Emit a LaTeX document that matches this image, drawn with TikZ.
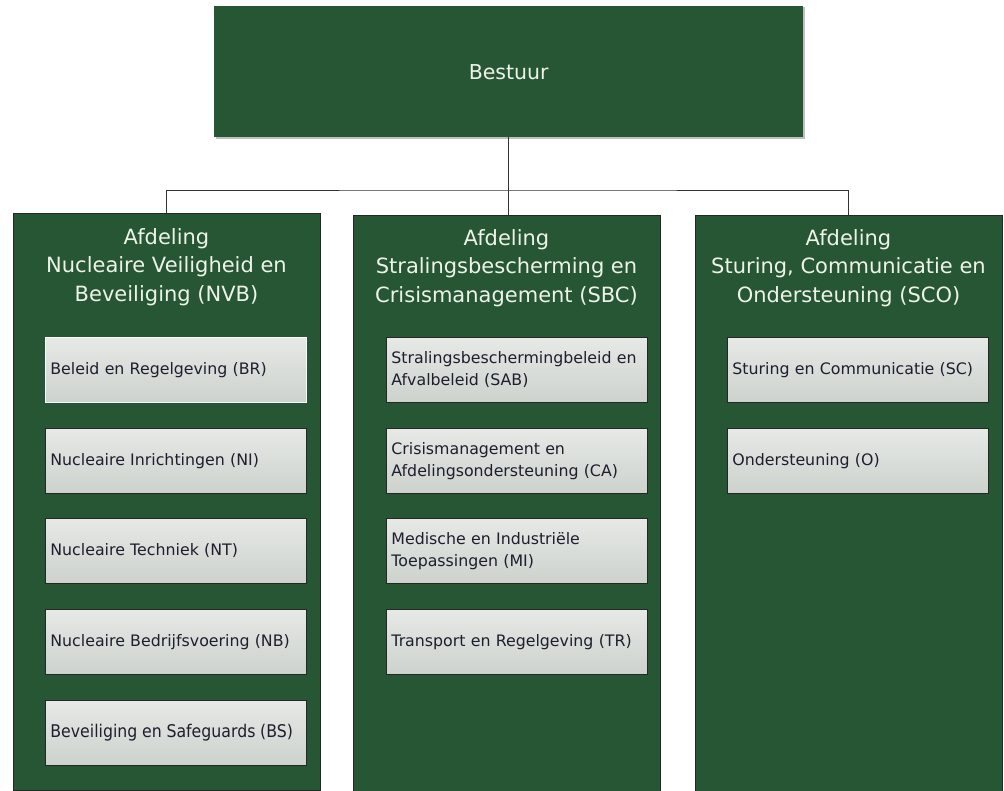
\documentclass[tikz,border=0pt]{standalone}
\usepackage{fontspec}
\setmainfont{DejaVu Sans}
\definecolor{dg}{HTML}{265633}
\definecolor{hdr}{HTML}{EEF3E8}
\definecolor{subtop}{HTML}{E6E9E6}
\definecolor{subbot}{HTML}{CDD2CD}
\definecolor{subtxt}{HTML}{1E1E2E}
\definecolor{conn}{HTML}{333333}
\tikzset{
  topbox/.style={fill=dg, minimum width=589pt, minimum height=131pt, anchor=north west, inner sep=0pt,
    text=hdr, font=\fontsize{20.5}{24}\selectfont},
  colbox/.style={fill=dg, draw=black!85, line width=0.8pt, minimum width=307pt, minimum height=577pt, anchor=north west, inner sep=0pt},
  coltitle/.style={text=hdr, align=center, anchor=north, font=\fontsize{21}{28.5}\selectfont, inner sep=0pt},
  subbox/.style={draw=black!85, line width=0.8pt, top color=subtop, bottom color=subbot, minimum width=261pt, minimum height=65pt,
    text width=251pt, inner xsep=5pt, inner ysep=0pt, align=left, anchor=north west, text=subtxt,
    font=\fontsize{15.8}{22}\selectfont},
  connline/.style={draw=conn, line width=0.9pt}
}
\begin{document}
\begin{tikzpicture}[x=1pt,y=-1pt]
\useasboundingbox (0,0) rectangle (1004,791);
% shadow of top box
\fill[black!25] (215.5,7.5) rectangle (804.5,139);
\node[topbox] (top) at (214,6) {Bestuur};
% columns
\node[colbox] (nvb) at (13,213) {};
\node[colbox] (sbc) at (353,215) {};
\node[colbox] (sco) at (695,215) {};
% connectors
\coordinate (bus) at (508.5,190);
\draw[connline] (top.south) -- (top.south |- sbc.north);
\draw[connline] (nvb.north) |- (bus) -| (sco.north);
% titles
\node[coltitle] (nvbt) at (166.5,228) {Afdeling\\Nucleaire Veiligheid en\\Beveiliging (NVB)};
\node[coltitle] (sbct) at (506.5,229) {Afdeling\\Stralingsbescherming en\\Crisismanagement (SBC)};
\node[coltitle] (scot) at (848.5,229) {Afdeling\\Sturing, Communicatie en\\Ondersteuning (SCO)};
% left sub boxes
\node[subbox, draw=white] (br) at (45,337) {Beleid en Regelgeving (BR)};
\node[subbox] (ni) at (45,428) {Nucleaire Inrichtingen (NI)};
\node[subbox] (nt) at (45,518) {Nucleaire Techniek (NT)};
\node[subbox] (nb) at (45,609) {Nucleaire Bedrijfsvoering (NB)};
\node[subbox] (bs) at (45,700) {\fontsize{17.5}{22}\selectfont\scalebox{0.9}[1]{Beveiliging en Safeguards (BS)}};
% middle sub boxes
\node[subbox] (sab) at (386,337) {Stralingsbeschermingbeleid en\\Afvalbeleid (SAB)};
\node[subbox] (ca) at (386,428) {Crisismanagement en\\Afdelingsondersteuning (CA)};
\node[subbox] (mi) at (386,518) {Medische en Industriële\\Toepassingen (MI)};
\node[subbox] (tr) at (386,609) {Transport en Regelgeving (TR)};
% right sub boxes
\node[subbox] (sc) at (727,337) {Sturing en Communicatie (SC)};
\node[subbox] (o) at (727,428) {Ondersteuning (O)};
\end{tikzpicture}
\end{document}
